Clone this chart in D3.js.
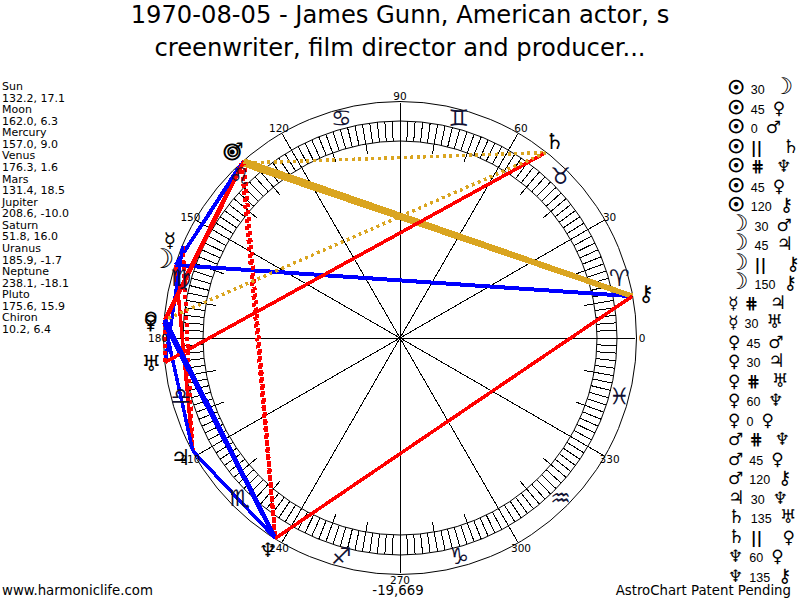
<!DOCTYPE html>
<html>
<head>
<meta charset="utf-8">
<script src="https://cdn.jsdelivr.net/npm/d3@7"></script>
<style>
  body { margin: 0; background: #fff; }
  text { font-family: "DejaVu Sans", sans-serif; fill: #000; }
</style>
</head>
<body>
<div id="chart"></div>
<script>
var titleLines = ["1970-08-05 - James Gunn, American actor, s", "creenwriter, film director and producer..."];
var planetNames = ["Sun", "Moon", "Mercury", "Venus", "Mars", "Jupiter", "Saturn", "Uranus", "Neptune", "Pluto", "Chiron"];
var longitudes = [132.2, 162.0, 157.0, 176.3, 131.4, 208.6, 51.8, 185.9, 238.1, 175.6, 10.2];
var declinations = ["17.1", "6.3", "9.0", "1.6", "18.5", "-10.0", "16.0", "-1.7", "-18.1", "15.9", "6.4"];
var planetGlyphs = ["\u2609", "\u263D", "\u263F", "\u2640", "\u2642", "\u2643", "\u2644", "\u2645", "\u2646", "\u2640", "\u26B7"];
var signGlyphs = ["\u2648", "\u2649", "\u264A", "\u264B", "\u264C", "\u264D", "\u264E", "\u264F", "\u2650", "\u2651", "\u2652", "\u2653"];
var aspectFrom = ["Sun", "Sun", "Sun", "Sun", "Sun", "Sun", "Sun", "Moon", "Moon", "Moon", "Moon", "Mercury", "Mercury",
  "Venus", "Venus", "Venus", "Venus", "Venus", "Mars", "Mars", "Mars", "Jupiter", "Saturn", "Saturn", "Neptune", "Neptune"];
var aspectType = ["30", "45", "0", "||", "##", "45", "120", "30", "45", "||", "150", "##", "30",
  "45", "30", "##", "60", "0", "##", "45", "120", "30", "135", "||", "60", "135"];
var aspectTo = ["Moon", "Venus", "Mars", "Saturn", "Neptune", "Pluto", "Chiron", "Mars", "Jupiter", "Chiron", "Chiron", "Jupiter", "Uranus",
  "Mars", "Jupiter", "Uranus", "Neptune", "Pluto", "Neptune", "Pluto", "Chiron", "Neptune", "Uranus", "Pluto", "Pluto", "Chiron"];

var aspectStyle = {
  "30": { color: "#0000ff", width: 3.5 },
  "60": { color: "#0000ff", width: 4.5 },
  "150": { color: "#0000ff", width: 4 },
  "45": { color: "#ff0000", width: 3.5 },
  "135": { color: "#ff0000", width: 3.5 },
  "120": { color: "#daa520", width: 5.5 },
  "0": { color: "#daa520", width: 5.5 },
  "||": { color: "#daa520", width: 3.5, dash: "3,3.5" },
  "##": { color: "#ff0000", width: 4, dash: "4,3" }
};
// glyph font size on the wheel, they are not equally big in the font
var glyphSize = { Sun: 22, Moon: 27, Mercury: 20, Venus: 20, Mars: 20, Jupiter: 22, Saturn: 22, Uranus: 22, Neptune: 20, Pluto: 20, Chiron: 22 };

var width = 800, height = 600;
var cx = 400, cy = 338;
var rOuter = 236.5, rBandOut = 217, rBandIn = 197, rTick = 187, rSpoke = 235;
var rPlanet = 236, rPlanetGlyph = 250, rSign = 227, rLabel = 242;

var svg = d3.select("#chart").append("svg")
  .attr("width", width)
  .attr("height", height)
  .style("display", "block");

// ecliptic degrees -> radians, 0 on the right and going counter clockwise
var angle = d3.scaleLinear().domain([0, 360]).range([0, 2 * Math.PI]);
function px(deg, r) { return cx + r * Math.cos(angle(deg)); }
function py(deg, r) { return cy - r * Math.sin(angle(deg)); }
function lonOf(name) { return longitudes[planetNames.indexOf(name)]; }
function glyphOf(name) { return planetGlyphs[planetNames.indexOf(name)] + "\uFE0E"; }
// the sun ring is drawn heavy in the original
function heavy(sel, name) {
  sel.style("stroke", name === "Sun" ? "#000" : "none").style("stroke-width", name === "Sun" ? 1 : 0);
}

// title
svg.selectAll(".title").data(titleLines).enter().append("text")
  .attr("class", "title")
  .attr("x", 400)
  .attr("y", function (d, i) { return 23 + i * 33; })
  .attr("text-anchor", "middle")
  .style("font-size", "24.2px")
  .text(function (d) { return d; });

// wheel
var wheel = svg.append("g").attr("shape-rendering", "crispEdges");
wheel.selectAll("circle").data([rOuter, rBandOut, rBandIn]).enter().append("circle")
  .attr("cx", cx).attr("cy", cy).attr("r", function (d) { return d; })
  .attr("fill", "none").attr("stroke", "#000").attr("stroke-width", 1)
  .attr("shape-rendering", "auto");

wheel.selectAll(".tick").data(d3.range(0, 360, 2)).enter().append("line")
  .attr("class", "tick")
  .attr("x1", function (d) { return px(d, d % 10 === 0 ? rTick : rBandIn); })
  .attr("y1", function (d) { return py(d, d % 10 === 0 ? rTick : rBandIn); })
  .attr("x2", function (d) { return px(d, rBandOut); })
  .attr("y2", function (d) { return py(d, rBandOut); })
  .attr("stroke", "#000");

wheel.selectAll(".spoke").data(d3.range(0, 360, 30)).enter().append("line")
  .attr("class", "spoke")
  .attr("x1", cx).attr("y1", cy)
  .attr("x2", function (d) { return px(d, rSpoke); })
  .attr("y2", function (d) { return py(d, rSpoke); })
  .attr("stroke", "#000");

// aspect lines, in the order of the list
aspectType.forEach(function (type, i) {
  if (type === "0") return;
  var st = aspectStyle[type];
  svg.append("line")
    .attr("x1", px(lonOf(aspectFrom[i]), rPlanet))
    .attr("y1", py(lonOf(aspectFrom[i]), rPlanet))
    .attr("x2", px(lonOf(aspectTo[i]), rPlanet))
    .attr("y2", py(lonOf(aspectTo[i]), rPlanet))
    .attr("stroke", st.color)
    .attr("stroke-width", st.width)
    .attr("stroke-dasharray", st.dash || null)
    .attr("shape-rendering", "crispEdges");
});

// degree labels
svg.selectAll(".deg").data(d3.range(0, 360, 30)).enter().append("text")
  .attr("class", "deg")
  .attr("x", function (d) { return px(d, rLabel); })
  .attr("y", function (d) { return py(d, rLabel) + 4; })
  .attr("text-anchor", "middle")
  .style("font-size", "10.5px")
  .text(function (d) { return d; });

// signs
svg.selectAll(".sign").data(signGlyphs).enter().append("text")
  .attr("class", "sign")
  .attr("x", function (d, i) { return px(15 + i * 30, rSign); })
  .attr("y", function (d, i) { return py(15 + i * 30, rSign) + 7; })
  .attr("text-anchor", "middle")
  .style("font-size", "23px")
  .style("fill", "#111133")
  .text(function (d) { return d + "\uFE0E"; });

// planets on the outside of the wheel
svg.selectAll(".planet").data(planetNames).enter().append("text")
  .attr("class", "planet")
  .attr("x", function (d, i) { return px(longitudes[i], rPlanetGlyph); })
  .attr("y", function (d, i) { return py(longitudes[i], rPlanetGlyph) + 7; })
  .attr("text-anchor", "middle")
  .style("font-size", function (d) { return glyphSize[d] + "px"; })
  .style("font-weight", function (d) { return d === "Sun" ? "bold" : "normal"; })
  .style("stroke", function (d) { return d === "Sun" ? "#000" : "none"; })
  .style("stroke-width", function (d) { return d === "Sun" ? 1 : 0; })
  .text(function (d, i) { return planetGlyphs[i] + "\uFE0E"; });

// positions on the left
var leftRows = [];
planetNames.forEach(function (name, i) {
  leftRows.push(name);
  leftRows.push(longitudes[i].toFixed(1) + ", " + declinations[i]);
});
svg.selectAll(".pos").data(leftRows).enter().append("text")
  .attr("class", "pos")
  .attr("x", 2)
  .attr("y", function (d, i) { return 90 + i * 11.57; })
  .style("font-size", "11px")
  .text(function (d) { return d; });

// aspect list on the right
aspectType.forEach(function (type, i) {
  var row = svg.append("text")
    .attr("x", 728)
    .attr("y", 94 + i * 19.5);
  var first = row.append("tspan")
    .style("font-size", glyphSize[aspectFrom[i]] * 0.85 + "px")
    .style("font-weight", aspectFrom[i] === "Sun" ? "bold" : "normal")
    .text(glyphOf(aspectFrom[i]));
  heavy(first, aspectFrom[i]);
  var isLines = type === "||" || type === "##";
  row.append("tspan").attr("dx", 6)
    .style("font-family", isLines ? null : "'Liberation Sans'")
    .style("font-weight", isLines ? "bold" : "normal")
    .style("font-size", isLines ? "16px" : "12.5px")
    .text(type === "##" ? "\u22D5" : type);
  row.append("tspan").attr("dx", type === "||" ? 20 : type === "##" ? 12 : 8)
    .style("font-size", glyphSize[aspectTo[i]] * 0.85 + "px")
    .text(glyphOf(aspectTo[i]));
});

// footer
svg.append("text").attr("x", 2).attr("y", 595).style("font-size", "13.3px").text("www.harmoniclife.com");
svg.append("text").attr("x", 398).attr("y", 595).attr("text-anchor", "middle").style("font-size", "13.3px").text("-19,669");
svg.append("text").attr("x", 791).attr("y", 595).attr("text-anchor", "end").style("font-size", "13.3px").text("AstroChart Patent Pending");
</script>
</body>
</html>
